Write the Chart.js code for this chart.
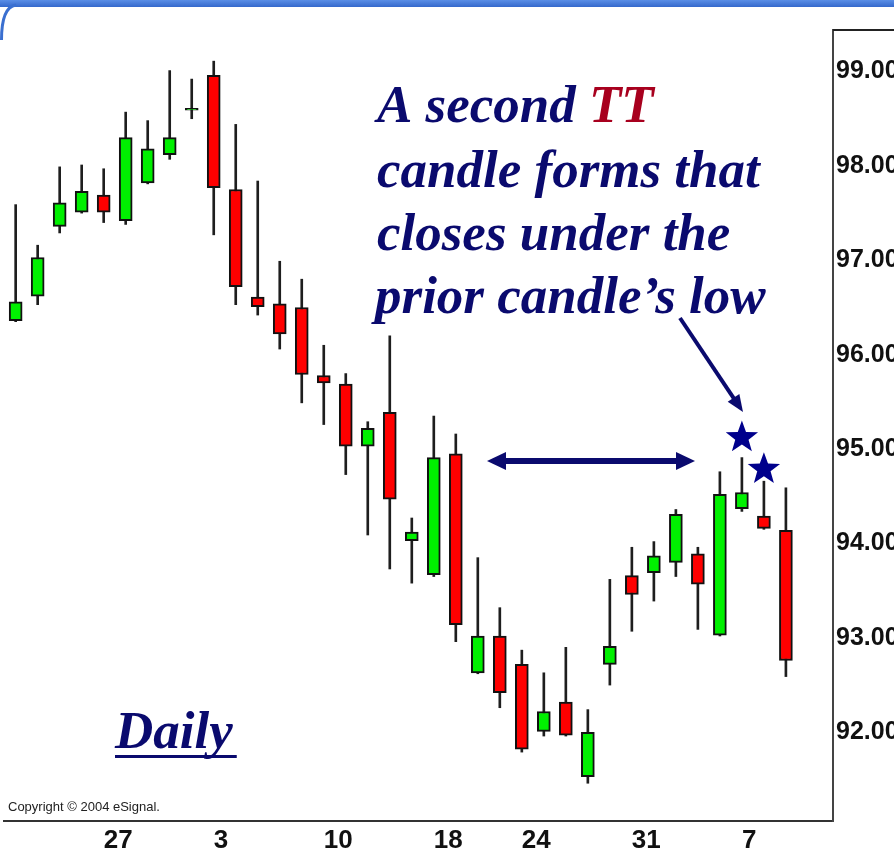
<!DOCTYPE html>
<html>
<head>
<meta charset="utf-8">
<script src="https://cdn.jsdelivr.net/npm/chart.js@4.4.1/dist/chart.umd.min.js"></script>
<style>
  html, body { margin: 0; padding: 0; background: #fff; }
  #wrap { width: 894px; height: 851px; }
</style>
</head>
<body>
<div id="wrap"><canvas id="candles" width="894" height="851"></canvas></div>
<script>
// Day of month for each daily candle
const days = [20, 21, 22, 23, 27, 28, 29, 30, 31, 3, 4, 5, 6, 7, 10, 11, 12, 13, 14, 18, 19, 20, 21, 24, 25, 26, 27, 28, 31, 1, 2, 3, 4, 7, 8, 9];

// Candles that get a date label under them
const tickIndex = [4, 9, 14, 19, 23, 28, 33];

// OHLC values
const open  = [96.36, 96.62, 97.36, 97.51, 97.69, 97.42, 97.82, 98.12, 98.59, 98.96, 97.75, 96.61, 96.54, 96.50, 95.78, 95.69, 95.03, 95.39, 94.03, 93.67, 94.95, 92.63, 93.02, 92.72, 92.01, 92.32, 91.53, 92.72, 93.66, 93.69, 93.80, 93.89, 93.03, 94.37, 94.29, 94.14];
const high  = [97.59, 97.16, 97.99, 98.01, 97.97, 98.57, 98.48, 99.01, 98.92, 99.11, 98.44, 97.84, 96.99, 96.80, 96.10, 95.80, 95.29, 96.20, 94.27, 95.35, 95.16, 93.85, 93.32, 92.87, 92.63, 92.90, 92.24, 93.62, 93.96, 94.02, 94.36, 93.96, 94.76, 94.91, 94.66, 94.59];
const low   = [96.35, 96.53, 97.29, 97.50, 97.40, 97.38, 97.81, 98.07, 98.50, 97.27, 96.53, 96.42, 96.06, 95.49, 95.26, 94.73, 94.09, 93.73, 93.58, 93.65, 92.96, 92.62, 92.26, 91.79, 91.96, 91.96, 91.46, 92.50, 93.07, 93.39, 93.65, 93.09, 93.02, 94.34, 94.15, 92.59];
const close = [96.56, 97.03, 97.61, 97.73, 97.51, 98.30, 98.18, 98.30, 98.59, 97.77, 96.72, 96.51, 96.22, 95.79, 95.70, 95.03, 95.22, 94.47, 94.12, 94.91, 93.14, 93.02, 92.42, 91.82, 92.22, 91.97, 92.00, 92.91, 93.46, 93.87, 94.31, 93.57, 94.52, 94.54, 94.16, 92.76];

const navy = '#0a0a6e';

const bodies = days.map((d, i) => ({ x: i, y: [open[i], close[i]] }));
const wicks = days.map((d, i) => ({ x: i, y: [low[i], high[i]] }));
const bodyColors = days.map((d, i) => close[i] >= open[i] ? '#00f000' : '#ff0000');

function drawStar(ctx, cx, cy, R, r) {
    ctx.beginPath();
    for (let k = 0; k < 10; k++) {
        const rad = k % 2 === 0 ? R : r;
        const a = -Math.PI / 2 + k * Math.PI / 5;
        ctx.lineTo(cx + rad * Math.cos(a), cy + rad * Math.sin(a));
    }
    ctx.closePath();
    ctx.fill();
}

function arrowHead(ctx, tx, ty, ux, uy, len, half) {
    ctx.beginPath();
    ctx.moveTo(tx, ty);
    ctx.lineTo(tx - ux * len - uy * half, ty - uy * len + ux * half);
    ctx.lineTo(tx - ux * len + uy * half, ty - uy * len - ux * half);
    ctx.closePath();
    ctx.fill();
}

// window frame, background and the annotation layer
const decor = {
    id: 'decor',
    beforeDraw(chart) {
        const ctx = chart.ctx;
        ctx.save();
        ctx.fillStyle = '#ffffff';
        ctx.fillRect(0, 0, chart.width, chart.height);
        const g = ctx.createLinearGradient(0, 0, 0, 8);
        g.addColorStop(0, '#5a8ee6');
        g.addColorStop(1, '#2f63c8');
        ctx.fillStyle = g;
        ctx.fillRect(0, 0, chart.width, 7);
        ctx.strokeStyle = '#3a6fd0';
        ctx.lineWidth = 3;
        ctx.beginPath();
        ctx.moveTo(1.5, 40);
        ctx.quadraticCurveTo(1.5, 7, 16, 5);
        ctx.stroke();
        ctx.restore();
    },
    afterDraw(chart) {
        const ctx = chart.ctx;
        const xs = chart.scales.x;
        const ys = chart.scales.y;
        const area = chart.chartArea;
        ctx.save();

        // box around the price axis
        ctx.strokeStyle = '#222';
        ctx.lineWidth = 2;
        ctx.beginPath();
        ctx.moveTo(area.right, 30);
        ctx.lineTo(chart.width, 30);
        ctx.stroke();

        // copyright
        ctx.fillStyle = '#222';
        ctx.font = '13px "Liberation Sans", Arial, sans-serif';
        ctx.textAlign = 'left';
        ctx.textBaseline = 'alphabetic';
        ctx.fillText('Copyright \u00a9 2004 eSignal.', 8, 811);

        // main note
        ctx.font = 'italic bold 53px "Liberation Serif", "Times New Roman", serif';
        ctx.fillStyle = navy;
        const tx = 377;
        ctx.fillText('A second ', tx, 122);
        const w1 = ctx.measureText('A second ').width;
        ctx.fillStyle = '#a8001e';
        ctx.fillText('TT', tx + w1, 122);
        ctx.fillStyle = navy;
        ctx.fillText('candle forms that', tx, 187);
        ctx.fillText('closes under the', tx, 250);
        ctx.fillText('prior candle\u2019s low', tx - 2, 313);

        // Daily label
        ctx.fillText('Daily', 115, 748);
        const dw = ctx.measureText('Daily').width;
        ctx.fillRect(115, 755, dw + 4, 3);

        // diagonal arrow to the first star
        ctx.strokeStyle = navy;
        ctx.fillStyle = navy;
        ctx.lineWidth = 4;
        const ax0 = 680, ay0 = 318, ax1 = 743, ay1 = 412;
        const L = Math.hypot(ax1 - ax0, ay1 - ay0);
        const ux = (ax1 - ax0) / L, uy = (ay1 - ay0) / L;
        ctx.beginPath();
        ctx.moveTo(ax0, ay0);
        ctx.lineTo(ax1 - ux * 12, ay1 - uy * 12);
        ctx.stroke();
        arrowHead(ctx, ax1, ay1, ux, uy, 17, 7);

        // horizontal double arrow
        ctx.lineWidth = 6;
        ctx.beginPath();
        ctx.moveTo(500, 461);
        ctx.lineTo(682, 461);
        ctx.stroke();
        arrowHead(ctx, 487, 461, -1, 0, 19, 9);
        arrowHead(ctx, 695, 461, 1, 0, 19, 9);

        // stars over the two TT candles
        ctx.fillStyle = '#00008c';
        drawStar(ctx, xs.getPixelForValue(33), ys.getPixelForValue(high[33]) - 20, 17, 7);
        drawStar(ctx, xs.getPixelForValue(34), ys.getPixelForValue(high[34]) - 12, 17, 7);

        ctx.restore();
    }
};

const ctx = document.getElementById('candles').getContext('2d');

const candleChart = new Chart(ctx, {
    type: 'bar',
    data: {
        datasets: [{
            label: 'body',
            data: bodies,
            backgroundColor: bodyColors,
            borderColor: '#111',
            borderWidth: 2,
            borderSkipped: false,
            barThickness: 13,
            minBarLength: 2,
            grouped: false,
            order: 0
        }, {
            label: 'wick',
            data: wicks,
            backgroundColor: '#1e1e1e',
            borderWidth: 0,
            barThickness: 2,
            grouped: false,
            order: 1
        }]
    },
    options: {
        responsive: false,
        animation: false,
        layout: { padding: { left: 4, top: 30, right: 0, bottom: 0 } },
        scales: {
            x: {
                type: 'linear',
                offset: false,
                min: -0.53,
                max: 37.14,
                grid: { display: false, drawTicks: false, offset: false },
                border: { display: true, color: '#333', width: 2 },
                afterBuildTicks: function(scale) {
                    scale.ticks = tickIndex.map(v => ({ value: v }));
                },
                afterFit: function(scale) {
                    scale.height = 30;
                },
                ticks: {
                    autoSkip: false,
                    maxRotation: 0,
                    align: 'start',
                    padding: 4,
                    color: '#111',
                    font: { family: '"Liberation Sans Narrow", "Arial Narrow", "Liberation Sans", sans-serif', size: 26, weight: 'bold' },
                    callback: function(value) {
                        return days[value];
                    }
                }
            },
            y: {
                position: 'right',
                min: 91.06,
                max: 99.44,
                grid: { display: false, drawTicks: false },
                border: { display: true, color: '#444', width: 2 },
                afterFit: function(scale) {
                    scale.width = 61;
                },
                ticks: {
                    stepSize: 1,
                    includeBounds: false,
                    padding: 3,
                    color: '#111',
                    font: { family: '"Liberation Sans", Arial, sans-serif', size: 25, weight: 'bold' },
                    callback: function(value) {
                        return value.toFixed(2);
                    }
                }
            }
        },
        plugins: {
            legend: { display: false },
            tooltip: { enabled: false }
        }
    },
    plugins: [decor]
});
</script>
</body>
</html>
